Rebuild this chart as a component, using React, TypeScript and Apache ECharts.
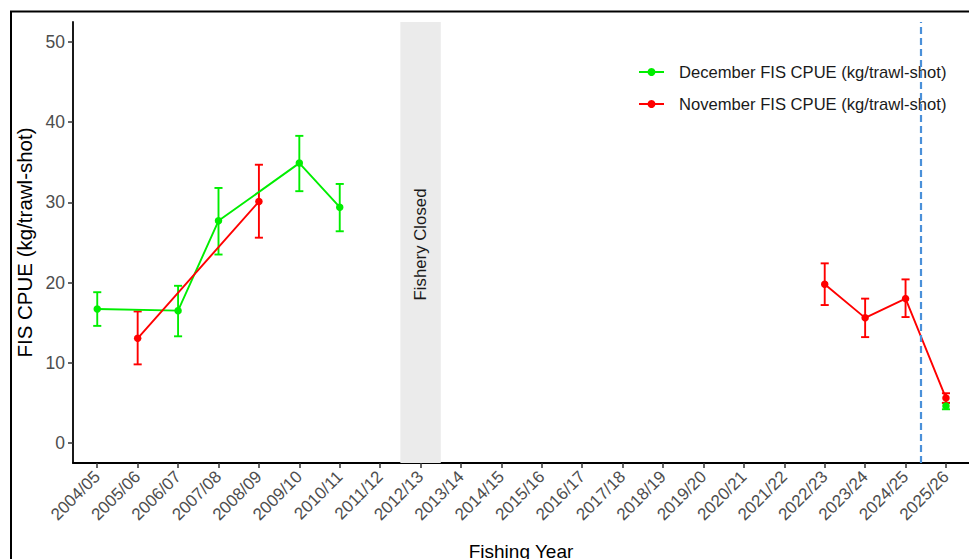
import React, { useEffect, useRef } from "react";
import * as echarts from "echarts";

const years = [
  "2004/05", "2005/06", "2006/07", "2007/08", "2008/09", "2009/10", "2010/11", "2011/12",
  "2012/13", "2013/14", "2014/15", "2015/16", "2016/17", "2017/18", "2018/19", "2019/20",
  "2020/21", "2021/22", "2022/23", "2023/24", "2024/25", "2025/26",
];
const yTicks = [0, 10, 20, 30, 40, 50];
const closedIndex = 8;
const markerPosition = 20.37;

const decX = [0, 2, 3, 5, 6, 21];
const decMean = [16.7, 16.5, 27.7, 34.9, 29.4, 4.6];
const decLow = [14.6, 13.3, 23.5, 31.4, 26.4, 4.2];
const decHigh = [18.8, 19.6, 31.8, 38.3, 32.3, 5.0];

const novX = [1, 4, 18, 19, 20, 21];
const novMean = [13.05, 30.1, 19.8, 15.6, 18.0, 5.6];
const novLow = [9.8, 25.6, 17.2, 13.2, 15.7, 5.0];
const novHigh = [16.4, 34.7, 22.4, 18.0, 20.4, 6.2];

const GREEN = "#00EE00";
const RED = "#FF0000";
const FONT = "'Liberation Sans', Arial, sans-serif";

function lineData(xs: number[], ys: number[]) {
  const out: any[] = [];
  xs.forEach((x, i) => {
    if (i > 0 && xs[i - 1] < closedIndex && x > closedIndex) out.push([closedIndex, "-"]);
    out.push([x, ys[i]]);
  });
  return out;
}

function errData(xs: number[], lo: number[], hi: number[]) {
  return xs.map((x, i) => [x, lo[i], hi[i]]);
}

function errSeries(name: string, color: string, data: any[]) {
  return {
    type: "custom",
    name,
    silent: true,
    data,
    encode: { x: 0, y: [1, 2] },
    renderItem: (params: any, api: any) => {
      const x = api.value(0);
      const lo = api.coord([x, api.value(1)]);
      const hi = api.coord([x, api.value(2)]);
      const half = api.size([0.2, 0])[0] / 2;
      const style = { stroke: color, lineWidth: 1.9 };
      return {
        type: "group",
        children: [
          { type: "line", shape: { x1: lo[0], y1: lo[1], x2: hi[0], y2: hi[1] }, style },
          { type: "line", shape: { x1: hi[0] - half, y1: hi[1], x2: hi[0] + half, y2: hi[1] }, style },
          { type: "line", shape: { x1: lo[0] - half, y1: lo[1], x2: lo[0] + half, y2: lo[1] }, style },
        ],
      };
    },
    z: 2,
  };
}

export default function App() {
  const ref = useRef<HTMLDivElement>(null);
  useEffect(() => {
    if (!ref.current) return;
    const chart = echarts.init(ref.current, undefined, { renderer: "svg" });
    const xIdx = years.map((_, i) => i);
    chart.setOption({
      animation: false,
      backgroundColor: "#ffffff",
      textStyle: { fontFamily: FONT },
      grid: { left: 73, right: 0, top: 22, bottom: 96, containLabel: false, outerBoundsMode: "none" },
      graphic: [
        {
          type: "rect",
          shape: { x: 11, y: 11.5, width: 1000, height: 600 },
          style: { fill: "none", stroke: "#000", lineWidth: 2 },
          silent: true,
          z: 10,
        },
      ],
      legend: {
        orient: "vertical",
        left: 628,
        top: 42,
        padding: [20, 10, 23, 10],
        backgroundColor: "#ffffff",
        itemWidth: 25,
        itemHeight: 10,
        itemGap: 12,
        data: ["December FIS CPUE (kg/trawl-shot)", "November FIS CPUE (kg/trawl-shot)"],
        textStyle: { fontSize: 16.6, color: "#1a1a1a", lineHeight: 20, padding: [0, 0, 0, 10], fontFamily: FONT },
        selectedMode: false,
        z: 5,
      },
      xAxis: {
        type: "value",
        min: -0.6,
        max: 21.57,
        name: "Fishing Year",
        nameLocation: "middle",
        nameGap: 79,
        nameTextStyle: { fontSize: 19, color: "#000", verticalAlign: "top", fontFamily: FONT },
        splitLine: { show: false },
        axisLine: { onZero: false, lineStyle: { color: "#000", width: 1.8 } },
        axisTick: { customValues: xIdx, length: 5, lineStyle: { color: "#333", width: 1.5 } },
        axisLabel: {
          customValues: xIdx,
          rotate: 45,
          margin: 11,
          fontSize: 17,
          color: "#4D4D4D",
          fontFamily: FONT,
          formatter: (v: number) => years[Math.round(v)] ?? "",
        },
      },
      yAxis: {
        type: "value",
        min: -2.5,
        max: 52.5,
        name: "FIS CPUE (kg/trawl-shot)",
        nameLocation: "middle",
        nameGap: 35,
        nameTextStyle: { fontSize: 20.5, color: "#000", fontFamily: FONT },
        splitLine: { show: false },
        axisLine: { show: true, onZero: false, lineStyle: { color: "#000", width: 1.8 } },
        axisTick: { show: true, customValues: yTicks, length: 5, lineStyle: { color: "#333", width: 1.5 } },
        axisLabel: { customValues: yTicks, margin: 8, fontSize: 17.5, color: "#4D4D4D", fontFamily: FONT },
      },
      series: [
        {
          type: "line",
          name: "__closed",
          data: [],
          silent: true,
          markArea: {
            silent: true,
            itemStyle: { color: "#EBEBEB" },
            label: {
              show: true,
              position: "inside",
              rotate: 90,
              formatter: "Fishery Closed",
              fontSize: 16.8,
              color: "#1a1a1a",
              fontFamily: FONT,
              offset: [-2, 0],
            },
            data: [[{ xAxis: closedIndex - 0.5 }, { xAxis: closedIndex + 0.5 }]],
          },
          markLine: {
            silent: true,
            symbol: "none",
            label: { show: false },
            lineStyle: { color: "#4A90D9", width: 2.2, type: [7, 4] },
            data: [{ xAxis: markerPosition }],
          },
          z: 1,
        },
        errSeries("decErr", GREEN, errData(decX, decLow, decHigh)),
        errSeries("novErr", RED, errData(novX, novLow, novHigh)),
        {
          type: "line",
          name: "December FIS CPUE (kg/trawl-shot)",
          data: lineData(decX, decMean),
          color: GREEN,
          symbol: "circle",
          symbolSize: 7.5,
          showSymbol: true,
          connectNulls: false,
          lineStyle: { color: GREEN, width: 1.9 },
          itemStyle: { color: GREEN },
          z: 3,
        },
        {
          type: "line",
          name: "November FIS CPUE (kg/trawl-shot)",
          data: lineData(novX, novMean),
          color: RED,
          symbol: "circle",
          symbolSize: 7.5,
          showSymbol: true,
          connectNulls: false,
          lineStyle: { color: RED, width: 1.9 },
          itemStyle: { color: RED },
          z: 3,
        },
      ],
    });
    return () => chart.dispose();
  }, []);
  return <div ref={ref} style={{ position: "fixed", left: 0, top: 0, width: 969, height: 559 }} />;
}
